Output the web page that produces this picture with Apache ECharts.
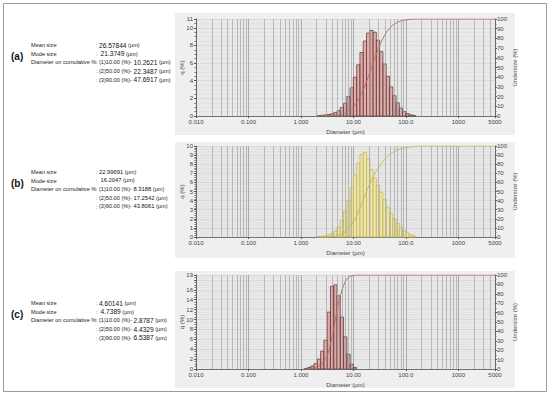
<!DOCTYPE html>
<html><head><meta charset="utf-8">
<script src="https://cdn.jsdelivr.net/npm/echarts@6/dist/echarts.min.js"></script>
<style>html,body{margin:0;padding:0;background:#fff}#c{width:550px;height:395px}</style>
</head><body><div id="c"></div>
<script>
// ---- data ----
// bin edges (µm), 16 channels per decade, starting at 1 µm
const binEdges = [1.000,1.155,1.334,1.540,1.778,2.054,2.371,2.738,3.162,3.652,4.217,4.870,5.623,6.494,7.499,8.660,10.00,11.55,13.34,15.40,17.78,20.54,23.71,27.38,31.62,36.52,42.17,48.70,56.23,64.94,74.99,86.60,100.0,115.5,133.4,154.0,177.8];
// q (%) per channel
const firstBinA = 5;
const qA = [0.05,0.08,0.12,0.17,0.25,0.38,0.6,0.95,1.45,2.2,3.2,4.4,5.8,7.2,8.5,9.4,9.7,9.5,8.6,7.3,5.9,4.5,3.3,2.3,1.5,0.9,0.5,0.28,0.14,0.06];
const firstBinB = 5;
const qB = [0.05,0.08,0.13,0.22,0.38,0.65,1.1,1.8,2.8,4.0,5.4,6.8,8.1,9.1,9.3,8.6,7.4,6.5,5.7,4.9,4.1,3.3,2.6,2.0,1.5,1.05,0.7,0.45,0.25,0.12];
const firstBinC = 1;
const qC = [0.1,0.3,0.6,1.1,2.0,3.6,5.8,11.5,16.7,17.0,14.8,10.5,6.5,3.0,1.0,0.3];
// cumulative undersize (%) : [diameter, %]
const cumA = [[2.054,0],[2.371,0.1],[2.738,0.2],[3.162,0.3],[3.652,0.5],[4.217,0.7],[4.870,1.1],[5.623,1.7],[6.494,2.6],[7.499,4.1],[8.660,6.3],[10.00,9.5],[11.55,13.9],[13.34,19.7],[15.40,26.9],[17.78,35.4],[20.54,44.8],[23.71,54.5],[27.38,64.0],[31.62,72.6],[36.52,79.9],[42.17,85.8],[48.70,90.3],[56.23,93.6],[64.94,95.9],[74.99,97.4],[86.60,98.4],[100.0,99.1],[115.5,99.5],[133.4,99.8],[154.0,100],[5000,100]];
const cumB = [[2.054,0],[2.371,0.05],[2.738,0.13],[3.162,0.26],[3.652,0.48],[4.217,0.86],[4.870,1.5],[5.623,2.6],[6.494,4.4],[7.499,7.2],[8.660,11.2],[10.00,16.6],[11.55,23.4],[13.34,31.5],[15.40,40.6],[17.78,49.9],[20.54,58.5],[23.71,65.9],[27.38,72.4],[31.62,78.1],[36.52,83.0],[42.17,87.1],[48.70,90.4],[56.23,93.0],[64.94,95.0],[74.99,96.5],[86.60,97.6],[100.0,98.3],[115.5,98.8],[133.4,99.2],[154.0,99.6],[177.8,100],[5000,100]];
const cumC = [[1.155,0],[1.334,0.1],[1.540,0.4],[1.778,1.1],[2.054,2.2],[2.371,4.3],[2.738,8.1],[3.162,14.2],[3.652,26.4],[4.217,44.0],[4.870,61.9],[5.623,77.5],[6.494,88.6],[7.499,95.5],[8.660,98.6],[10.00,99.7],[11.55,100],[5000,100]];
const xTickValues = [0.01,0.1,1,10,100,1000,5000];
const xTickLabels = ['0.010','0.100','1.000','10.00','100.0','1000','5000'];
const infoA = {tag:'(a)', mean:'26.57844', mode:'21.3749', d10:'10.2621', d50:'22.3487', d90:'47.6917'};
const infoB = {tag:'(b)', mean:'22.99691', mode:'16.2047', d10:'8.3188', d50:'17.2542', d90:'43.8061'};
const infoC = {tag:'(c)', mean:'4.60141', mode:'4.7389', d10:'2.8787', d50:'4.4329', d90:'6.5387'};

// ---- build ----
const FONT = 'Liberation Sans, Arial, sans-serif';
const chart = echarts.init(document.getElementById('c'), null, {renderer:'svg', width:550, height:395});

function binData(first, q){
  return q.map((v,i)=>[binEdges[first+i], binEdges[first+i+1], v]);
}
function fmtX(v){
  let best = 0, bd = 1e9;
  xTickValues.forEach((t,i)=>{const d=Math.abs(Math.log10(t)-Math.log10(v)); if(d<bd){bd=d;best=i;}});
  return bd < 0.01 ? xTickLabels[best] : '';
}
const minorVals = [];
[0.01,0.1,1,10,100,1000].forEach(dec=>{for(let m=2;m<=9;m++){const v=m*dec; if(v<5000) minorVals.push(+v.toPrecision(3));}});

const panels = [
  {top:19, height:97, ymax:11, yint:2, ysplit:4, q:qA, first:firstBinA, cum:cumA, fill:'rgba(238,120,120,0.55)', stroke:'#5b4646', curve:'#b5705e', bg:[175,13,340,122], info:infoA, ty:45, big:true},
  {top:146, height:91, ymax:10, yint:1, ysplit:5, q:qB, first:firstBinB, cum:cumB, fill:'rgba(240,228,150,0.6)', stroke:'#c9b955', curve:'#c5bb5c', bg:[175,142,340,116], info:infoB, ty:172, big:false},
  {top:275, height:94, ymax:19, yint:2, ysplit:4, q:qC, first:firstBinC, cum:cumC, fill:'rgba(238,110,110,0.55)', stroke:'#5b4646', curve:'#b5705e', bg:[175,271,340,117], info:infoC, ty:303, big:true}
];

const grid=[], xAxis=[], yAxis=[], series=[], graphic=[];
graphic.push({type:'rect', shape:{x:3.5,y:3.5,width:543,height:388}, style:{fill:'none', stroke:'#9a9a9a', lineWidth:1}, z:-10});
panels.forEach((p,i)=>{
  graphic.push({type:'rect', shape:{x:p.bg[0],y:p.bg[1],width:p.bg[2],height:p.bg[3]}, style:{fill:'#efefef'}, z:-5, silent:true});
  grid.push({left:196, top:p.top, width:299, height:p.height, show:true, backgroundColor:'#e9e9e9', borderWidth:0});
  xAxis.push({type:'log', gridIndex:i, min:0.01, max:5000, logBase:10,
    name:'Diameter (µm)', nameLocation:'middle', nameGap:13, nameMoveOverlap:false, nameTextStyle:{fontSize:6, color:'#444', fontFamily:FONT},
    axisLine:{lineStyle:{color:'#555', width:0.8}}, axisTick:{show:true, length:2, lineStyle:{color:'#555'}},
    axisLabel:{fontSize:6, color:'#444', fontFamily:FONT, margin:3, formatter:fmtX, showMaxLabel:true},
    splitLine:{show:true, lineStyle:{color:'#9b9b9b', width:0.8}}, minorTick:{show:false}, minorSplitLine:{show:false}});
  yAxis.push({type:'value', gridIndex:i, position:'left', min:0, max:p.ymax, interval:p.yint,
    name:'q (%)', nameLocation:'middle', nameRotate:90, nameGap:11, nameMoveOverlap:false, nameTextStyle:{fontSize:6, color:'#444', fontFamily:FONT},
    axisLine:{show:true, lineStyle:{color:'#555', width:0.8}}, axisTick:{show:true, length:2, lineStyle:{color:'#555'}},
    minorTick:{show:true, splitNumber:p.ysplit, length:1.5, lineStyle:{color:'#777'}},
    axisLabel:{fontSize:6, color:'#444', fontFamily:FONT, margin:3, showMaxLabel:true},
    splitLine:{show:true, lineStyle:{color:'#cfcfcf', width:0.6}},
    minorSplitLine:{show:true, lineStyle:{color:'#dcdcdc', width:0.5}}});
  yAxis.push({type:'value', gridIndex:i, position:'right', min:0, max:100, interval:10,
    name:'Undersize (%)', nameLocation:'middle', nameRotate:90, nameGap:17, nameMoveOverlap:false, nameTextStyle:{fontSize:6, color:'#444', fontFamily:FONT},
    axisLine:{show:true, lineStyle:{color:'#555', width:0.8}}, axisTick:{show:true, length:2, lineStyle:{color:'#555'}},
    minorTick:{show:true, splitNumber:2, length:1.5, lineStyle:{color:'#777'}},
    axisLabel:{fontSize:6, color:'#444', fontFamily:FONT, margin:2}, splitLine:{show:false}});
  // vertical minor gridlines at 2..9 x decade
  series.push({type:'line', xAxisIndex:i, yAxisIndex:2*i, data:[[0.01,0]], symbol:'none', lineStyle:{width:0}, silent:true, z:1,
    markLine:{silent:true, symbol:['none','none'], label:{show:false}, animation:false,
      lineStyle:{color:'#a4a4a4', width:0.7, type:'solid'}, data:minorVals.map(v=>({xAxis:v}))}});
  series.push({type:'custom', xAxisIndex:i, yAxisIndex:2*i, coordinateSystem:'cartesian2d', z:3,
    data:binData(p.first, p.q), encode:{x:[0,1], y:2},
    renderItem:(params, api)=>{
      const a = api.coord([api.value(0), api.value(2)]);
      const b = api.coord([api.value(1), 0]);
      return {type:'rect', shape:{x:a[0], y:a[1], width:b[0]-a[0], height:b[1]-a[1]},
        style:{fill:p.fill, stroke:p.stroke, lineWidth:0.8}};
    }});
  series.push({type:'line', xAxisIndex:i, yAxisIndex:2*i+1, data:p.cum, smooth:0.4, symbol:'none', z:4,
    lineStyle:{color:p.curve, width:1}});
  // text block
  const inf = p.info, x0 = 31, xc = 96, xv = 99, ty = p.ty, lh = 8.7;
  const ts = {fontSize:5.6, fill:'#222', fontFamily:FONT};
  const nb = p.big ? 6.6 : 5.8;
  function val(num, pre){
    return {type:'text', style:{rich:{s:{fontSize:5.6, fill:'#222', fontFamily:FONT}, n:{fontSize:nb, fill:'#111', fontFamily:FONT}},
      text:'{s|'+pre+'}{n|'+num+'}{s| (µm)}', fontFamily:FONT}};
  }
  graphic.push({type:'text', left:11, top:ty+6, style:{text:inf.tag, fontSize:10, fontWeight:'bold', fill:'#111', fontFamily:FONT}});
  graphic.push({type:'text', left:x0, top:ty-3, style:Object.assign({text:'Mean size'}, ts)});
  graphic.push({type:'text', left:x0, top:ty-3+lh, style:Object.assign({text:'Mode size'}, ts)});
  graphic.push({type:'text', left:x0, top:ty-3+2*lh, style:Object.assign({text:'Diameter on cumulative %'}, ts)});
  for(let r=0;r<5;r++) graphic.push({type:'text', left:xc, top:ty-3+r*lh, style:Object.assign({text:':'}, ts)});
  graphic.push(Object.assign(val(inf.mean,''), {left:xv, top:ty-3.5}));
  graphic.push(Object.assign(val(inf.mode,' '), {left:xv, top:ty-3.5+lh}));
  graphic.push(Object.assign(val(inf.d10,'(1)10.00 (%)- '), {left:xv, top:ty-3.5+2*lh}));
  graphic.push(Object.assign(val(inf.d50,'(2)50.00 (%)- '), {left:xv, top:ty-3.5+3*lh}));
  graphic.push(Object.assign(val(inf.d90,'(3)90.00 (%)- '), {left:xv, top:ty-3.5+4*lh}));
});

chart.setOption({animation:false, backgroundColor:'#fff', grid, xAxis, yAxis, series, graphic});
</script></body></html>
